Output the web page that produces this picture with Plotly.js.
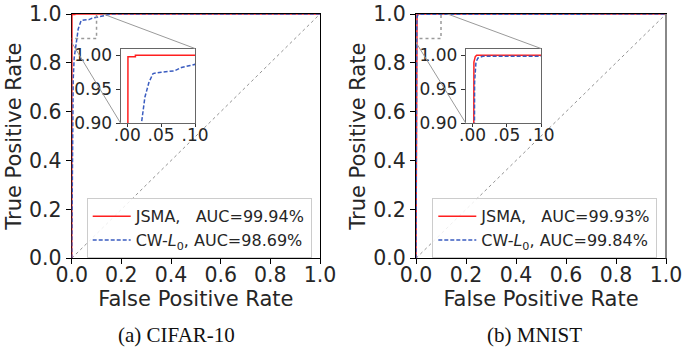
<!DOCTYPE html>
<html><head><meta charset="utf-8">
<script src="https://cdn.plot.ly/plotly-3.0.1.min.js"></script>
<style>html,body{margin:0;padding:0;background:#fff}#chart{width:682px;height:352px}</style>
</head><body><div id="chart"></div>
<script>
// ---- data ----
const diagX = [0, 1];
const diagY = [0, 1];

const cifarJsmaFpr = [0, 0.001, 0.001, 0.012, 0.012, 1];
const cifarJsmaTpr = [0, 0.5, 0.998, 0.998, 1, 1];
const cifarCwFpr = [0, 0.002, 0.004, 0.006, 0.010, 0.015, 0.021, 0.026, 0.032, 0.038, 0.050, 0.070, 0.080, 0.093, 0.100, 0.127, 0.160, 1];
const cifarCwTpr = [0, 0.30, 0.60, 0.73, 0.82, 0.87, 0.90, 0.938, 0.960, 0.973, 0.975, 0.977, 0.982, 0.985, 0.987, 0.993, 1.0, 1.0];

const mnistJsmaFpr = [0, 0.0005, 0.001, 0.002, 0.004, 0.006, 1];
const mnistJsmaTpr = [0, 0.5, 0.9, 0.99, 0.998, 1, 1];
const mnistCwFpr = [0, 0.001, 0.002, 0.003, 0.005, 0.008, 0.015, 0.5, 1];
const mnistCwTpr = [0, 0.5, 0.9, 0.96, 0.99, 0.996, 0.9985, 0.999, 1];

const legendNames = ['JSMA,   AUC=99.94%', 'CW-<i>L</i><sub>0</sub>, AUC=98.69%',
                     'JSMA,   AUC=99.93%', 'CW-<i>L</i><sub>0</sub>, AUC=99.84%'];
const captions = ['(a) CIFAR-10', '(b) MNIST'];
const mainTicks = [0, 0.2, 0.4, 0.6, 0.8, 1.0];
const insetXTicks = [0, 0.05, 0.1];
const insetXTickText = ['.00', '.05', '.10'];
const insetYTicks = [0.90, 0.95, 1.00];
const insetXRange = [-0.01, 0.1];
const insetYRange = [0.9, 1.01];

// ---- layout geometry ----
const W = 682, H = 352;
const px = v => v / W;
const py = v => 1 - v / H;
const mainY = [py(258.3), py(14)];
const mainXL = [px(71.7), px(320)];
const mainXR = [px(416), px(666)];
const insetY = [py(123), py(48.5)];
const insetXL = [px(120.5), px(195)];
const insetXR = [px(465.7), px(541)];

const FONT = 'DejaVu Sans';
const RED = '#ff1f1f', BLUE = '#3a5cc0', TXT = '#262626';

function lineTrace(x, y, xa, ya, color, dash, name, legend, show) {
  return {x, y, xaxis: xa, yaxis: ya, type: 'scatter', mode: 'lines', name,
          legend, showlegend: show, hoverinfo: 'skip',
          line: {color, width: 1.5, dash}};
}
const data = [
  {x: diagX, y: diagY, xaxis: 'x', yaxis: 'y', mode: 'lines', name: 'chance', showlegend: false, line: {color: '#777', width: 0.8, dash: 'dot'}},
  lineTrace(cifarJsmaFpr, cifarJsmaTpr, 'x', 'y', RED, 'solid', legendNames[0], 'legend', true),
  lineTrace(cifarCwFpr, cifarCwTpr, 'x', 'y', BLUE, '4px,2px', legendNames[1], 'legend', true),
  lineTrace(cifarJsmaFpr, cifarJsmaTpr, 'x3', 'y3', RED, 'solid', legendNames[0], 'legend', false),
  lineTrace(cifarCwFpr, cifarCwTpr, 'x3', 'y3', BLUE, '4px,2px', legendNames[1], 'legend', false),
  {x: diagX, y: diagY, xaxis: 'x2', yaxis: 'y2', mode: 'lines', name: 'chance', showlegend: false, line: {color: '#777', width: 0.8, dash: 'dot'}},
  lineTrace(mnistJsmaFpr, mnistJsmaTpr, 'x2', 'y2', RED, 'solid', legendNames[2], 'legend2', true),
  lineTrace(mnistCwFpr, mnistCwTpr, 'x2', 'y2', BLUE, '4px,2px', legendNames[3], 'legend2', true),
  lineTrace(mnistJsmaFpr, mnistJsmaTpr, 'x4', 'y4', RED, 'solid', legendNames[2], 'legend2', false),
  lineTrace(mnistCwFpr, mnistCwTpr, 'x4', 'y4', BLUE, '4px,2px', legendNames[3], 'legend2', false)
];

function mainX(domain, anchor) {
  return {domain, anchor, range: [0, 1], tickvals: mainTicks, tickformat: '.1f',
          ticks: 'outside', ticklen: 5, tickcolor: '#000', showline: true, mirror: true,
          linecolor: '#000', linewidth: 1, showgrid: false, zeroline: false, layer: 'below traces',
          ticklabelstandoff: -7, ticklabeloverflow: 'allow',
          tickfont: {family: FONT, size: 20.5, color: TXT},
          title: {text: 'False Positive Rate', font: {family: FONT, size: 21, color: TXT}, standoff: 0}};
}
function mainYAx(anchor) {
  return {domain: mainY, anchor, range: [0, 1], tickvals: mainTicks, tickformat: '.1f',
          ticks: 'outside', ticklen: 5, tickcolor: '#000', showline: true, mirror: true,
          linecolor: '#000', linewidth: 1, showgrid: false, zeroline: false, layer: 'below traces',
          ticklabeloverflow: 'allow',
          tickfont: {family: FONT, size: 20.5, color: TXT},
          title: {text: 'True Positive Rate', font: {family: FONT, size: 21, color: TXT}, standoff: 1}};
}
function insX(domain, anchor) {
  return {domain, anchor, range: insetXRange, tickvals: insetXTicks, ticktext: insetXTickText,
          ticks: 'outside', ticklen: 3, tickcolor: '#333', showline: true, mirror: true,
          linecolor: '#666', linewidth: 1, showgrid: false, zeroline: false,
          ticklabelstandoff: -6, ticklabeloverflow: 'allow',
          tickfont: {family: FONT, size: 17, color: TXT}};
}
function insY(anchor) {
  return {domain: insetY, anchor, range: insetYRange, tickvals: insetYTicks, tickformat: '.2f',
          ticks: 'outside', ticklen: 4, tickcolor: '#333', showline: true, mirror: true,
          linecolor: '#666', linewidth: 1, showgrid: false, zeroline: false,
          ticklabeloverflow: 'allow',
          tickfont: {family: FONT, size: 17, color: TXT}};
}

// inset corners expressed in main-axis data coordinates
function toData(p, dom) { return (p - dom[0]) / (dom[1] - dom[0]); }
function zoomShapes(xr, yr, mainXD, insXD) {
  const g = '#9a9a9a';
  return [
    {type: 'rect', xref: xr, yref: yr, x0: insetXRange[0], x1: insetXRange[1], y0: insetYRange[0], y1: insetYRange[1],
     line: {color: g, width: 1.5, dash: 'dot'}, layer: 'above'},
    {type: 'line', xref: xr, yref: yr, x0: insetXRange[0], y0: insetYRange[0],
     x1: toData(insXD[0], mainXD), y1: toData(insetY[0], mainY), line: {color: g, width: 1}, layer: 'above'},
    {type: 'line', xref: xr, yref: yr, x0: insetXRange[1], y0: insetYRange[1],
     x1: toData(insXD[1], mainXD), y1: toData(insetY[1], mainY), line: {color: g, width: 1}, layer: 'above'}
  ];
}

const legendBase = {xanchor: 'left', yanchor: 'top', bgcolor: 'rgba(255,255,255,0.85)',
  bordercolor: '#cccccc', borderwidth: 1, font: {family: FONT, size: 16, color: TXT},
  tracegroupgap: 0, itemwidth: 38};

const layout = {
  width: W, height: H, margin: {l: 0, r: 0, t: 0, b: 0},
  paper_bgcolor: '#fff', plot_bgcolor: '#fff', showlegend: true,
  font: {family: FONT, color: TXT},
  xaxis: mainX(mainXL, 'y'), yaxis: mainYAx('x'),
  xaxis2: mainX(mainXR, 'y2'), yaxis2: mainYAx('x2'),
  xaxis3: insX(insetXL, 'y3'), yaxis3: insY('x3'),
  xaxis4: insX(insetXR, 'y4'), yaxis4: insY('x4'),
  legend: Object.assign({x: px(86.7), y: py(198.3)}, legendBase),
  legend2: Object.assign({x: px(432.3), y: py(198.3)}, legendBase),
  shapes: [].concat(zoomShapes('x', 'y', mainXL, insetXL), zoomShapes('x2', 'y2', mainXR, insetXR),
    [{type: 'line', xref: 'paper', yref: 'paper', x0: mainXR[1], x1: mainXR[1], y0: mainY[0], y1: mainY[1],
      line: {color: '#888', width: 2}}]),
  annotations: [
    {text: captions[0], xref: 'paper', yref: 'paper', x: px(176), y: py(335), showarrow: false,
     xanchor: 'center', yanchor: 'middle', font: {family: 'Liberation Serif', size: 21, color: '#111'}},
    {text: captions[1], xref: 'paper', yref: 'paper', x: px(534), y: py(335), showarrow: false,
     xanchor: 'center', yanchor: 'middle', font: {family: 'Liberation Serif', size: 21, color: '#111'}}
  ]
};
Plotly.newPlot('chart', data, layout, {displayModeBar: false, staticPlot: true});
</script></body></html>
